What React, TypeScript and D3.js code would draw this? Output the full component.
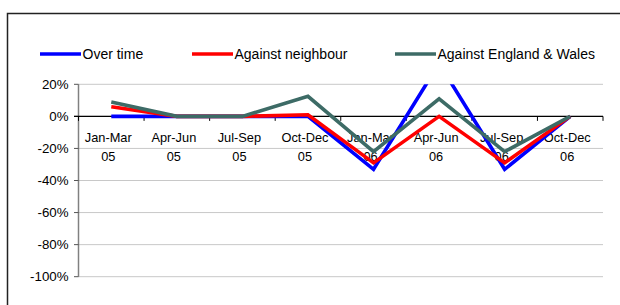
import * as d3 from "d3";

const periods = ["Jan-Mar", "Apr-Jun", "Jul-Sep", "Oct-Dec", "Jan-Mar", "Apr-Jun", "Jul-Sep", "Oct-Dec"];
const years = ["05", "05", "05", "05", "06", "06", "06", "06"];

const overTime = [0, 0, 0, 0, -33, 33, -33, 0];
const againstNeighbour = [6, 0, 0, 1, -29, 0, -29, 0];
const againstEnglandWales = [9, 0, 0, 12.5, -22, 11, -22, 0];

const yTicks = [20, 0, -20, -40, -60, -80, -100];

const series = [
    { name: "Over time", values: overTime, color: "#0000ff" },
    { name: "Against neighbour", values: againstNeighbour, color: "#ff0000" },
    { name: "Against England & Wales", values: againstEnglandWales, color: "#3d6b66" },
];

const legendX = [40, 192, 395];

export default function App() {
    const width = 620;
    const height = 305;
    const left = 78.5;
    const right = 603;
    const top = 84.3;
    const bottom = 276.7;

    const x = d3.scaleBand<number>().domain(d3.range(periods.length)).range([left, right]);
    const y = d3.scaleLinear().domain([-100, 20]).range([bottom, top]);

    const line = d3
        .line<number>()
        .x((_, i) => (x(i) || 0) + x.bandwidth() / 2)
        .y((d) => y(d));

    const font = "'Liberation Sans', Arial, sans-serif";

    return (
        <svg
            width={width}
            height={height}
            style={{ position: "absolute", left: 0, top: 0, fontFamily: font }}
        >
            <rect x={0} y={0} width={width} height={height} fill="#fff" />
            <rect x={7.5} y={13.5} width={width + 10} height={height + 10} fill="none" stroke="#222" strokeWidth={1.5} />

            <defs>
                <clipPath id="plot">
                    <rect x={left} y={top} width={right - left} height={bottom - top} />
                </clipPath>
            </defs>

            {/* gridlines */}
            {yTicks.map((t) => (
                <line key={t} x1={left} x2={right} y1={y(t)} y2={y(t)} stroke="#c8c8c8" strokeWidth={1} />
            ))}

            {/* y axis */}
            <line x1={left} x2={left} y1={top} y2={bottom} stroke="#808080" strokeWidth={1.5} />
            {yTicks.map((t) => (
                <g key={"yt" + t}>
                    <line x1={left - 4.5} x2={left} y1={y(t)} y2={y(t)} stroke="#555" strokeWidth={1} />
                    <text x={68.5} y={y(t) + 4.7} textAnchor="end" fontSize={13.3} fill="#000">
                        {t + "%"}
                    </text>
                </g>
            ))}

            {/* category axis at 0 */}
            <line x1={left - 4.5} x2={right} y1={y(0)} y2={y(0)} stroke="#000" strokeWidth={1.2} />
            {d3.range(periods.length + 1).map((i) => {
                const xx = i < periods.length ? x(i) || 0 : right;
                return <line key={"xt" + i} x1={xx} x2={xx} y1={y(0)} y2={y(0) + 4.5} stroke="#000" strokeWidth={1} />;
            })}
            {periods.map((p, i) => {
                const cx = (x(i) || 0) + x.bandwidth() / 2 - 3;
                return (
                    <text key={"c" + i} x={cx} textAnchor="middle" fontSize={12.8} fill="#000">
                        <tspan x={cx} y={141.5}>{p}</tspan>
                        <tspan x={cx} y={160.5}>{years[i]}</tspan>
                    </text>
                );
            })}

            {/* series */}
            <g clipPath="url(#plot)">
                {series.map((s) => (
                    <path
                        key={s.name}
                        d={line(s.values) || ""}
                        fill="none"
                        stroke={s.color}
                        strokeWidth={3.6}
                        strokeLinejoin="miter"
                    />
                ))}
            </g>

            {/* legend */}
            {series.map((s, i) => (
                <g key={"lg" + i}>
                    <line x1={legendX[i]} x2={legendX[i] + 41} y1={54} y2={54} stroke={s.color} strokeWidth={3.4} />
                    <text x={legendX[i] + 42.5} y={59} fontSize={14} fill="#000">
                        {s.name}
                    </text>
                </g>
            ))}
        </svg>
    );
}
